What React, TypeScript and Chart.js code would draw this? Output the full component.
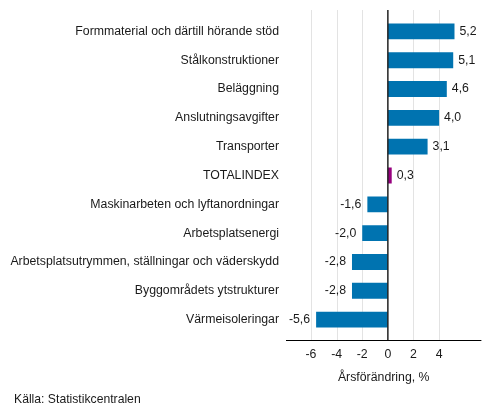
import { useEffect, useRef } from 'react'
import Chart from 'chart.js/auto';

// categories and values
const categories = [
    'Formmaterial och därtill hörande stöd',
    'Stålkonstruktioner',
    'Beläggning',
    'Anslutningsavgifter',
    'Transporter',
    'TOTALINDEX',
    'Maskinarbeten och lyftanordningar',
    'Arbetsplatsenergi',
    'Arbetsplatsutrymmen, ställningar och väderskydd',
    'Byggområdets ytstrukturer',
    'Värmeisoleringar',
];
const values = [5.2, 5.1, 4.6, 4.0, 3.1, 0.3, -1.6, -2.0, -2.8, -2.8, -5.6];
const xTicks = [-6, -4, -2, 0, 2, 4];
const axisTitle = 'Årsförändring, %';
const sourceText = 'Källa: Statistikcentralen';

const BLUE = '#0073b0';
const PURPLE = '#97007e';
const FONT = '"Liberation Sans", Arial, sans-serif';
const TEXT = '#1a1a1a';

const fmt = (v: number) => v.toFixed(1).replace('.', ',');

const decorPlugin = {
    id: 'decor',
    beforeDatasetsDraw(chart: any) {
        const { ctx, chartArea } = chart;
        const xs = chart.scales.x;
        ctx.save();
        ctx.strokeStyle = '#e3e3e3';
        ctx.lineWidth = 1;
        xTicks.forEach((t) => {
            if (t === 0) return;
            const x = Math.round(xs.getPixelForValue(t)) + 0.5;
            ctx.beginPath();
            ctx.moveTo(x, chartArea.top - 7);
            ctx.lineTo(x, chartArea.bottom + 6);
            ctx.stroke();
        });
        ctx.restore();
    },
    afterDatasetsDraw(chart: any) {
        const { ctx, chartArea } = chart;
        const xs = chart.scales.x;
        ctx.save();
        // zero line
        const x0 = xs.getPixelForValue(0);
        ctx.strokeStyle = '#222';
        ctx.lineWidth = 1.5;
        ctx.beginPath();
        ctx.moveTo(x0, chartArea.top - 7);
        ctx.lineTo(x0, chartArea.bottom + 6);
        ctx.stroke();
        // bottom axis line
        ctx.lineWidth = 1;
        ctx.strokeStyle = '#000';
        const yb = Math.round(chartArea.bottom + 6) + 0.5;
        ctx.beginPath();
        ctx.moveTo(chartArea.left, yb);
        ctx.lineTo(chartArea.right, yb);
        ctx.stroke();
        // value labels
        ctx.fillStyle = TEXT;
        ctx.font = '12.3px ' + FONT;
        ctx.textBaseline = 'middle';
        const meta = chart.getDatasetMeta(0);
        meta.data.forEach((bar: any, i: number) => {
            const v = values[i];
            if (v >= 0) {
                ctx.textAlign = 'left';
                ctx.fillText(fmt(v), bar.x + 5, bar.y);
            } else {
                ctx.textAlign = 'right';
                ctx.fillText(fmt(v), bar.x - 6, bar.y);
            }
        });
        ctx.restore();
    },
    afterDraw(chart: any) {
        const { ctx } = chart;
        ctx.save();
        ctx.fillStyle = TEXT;
        ctx.font = '12.2px ' + FONT;
        ctx.textAlign = 'left';
        ctx.textBaseline = 'middle';
        ctx.fillText(sourceText, 14, 400);
        ctx.restore();
    },
};

const App = () => {

    const chartRef = useRef<HTMLCanvasElement>(null);

    useEffect(() => {
        document.body.style.margin = '0';
        if (!chartRef.current) return;

        const myChart = new Chart(chartRef.current, {
            type: 'bar',
            data: {
                labels: categories,
                datasets: [
                    {
                        data: values,
                        backgroundColor: categories.map((c) => (c === 'TOTALINDEX' ? PURPLE : BLUE)),
                        categoryPercentage: 1,
                        barPercentage: 0.55,
                    },
                ],
            },
            options: {
                indexAxis: 'y',
                responsive: false,
                animation: false,
                layout: { padding: { top: 17, right: 11.6, bottom: 0, left: 0 } },
                plugins: {
                    legend: { display: false },
                    tooltip: { enabled: false },
                },
                scales: {
                    x: {
                        min: -7.95,
                        max: 7.3,
                        grid: { display: false, drawTicks: false },
                        border: { display: false },
                        afterBuildTicks: (scale: any) => {
                            scale.ticks = xTicks.map((v) => ({ value: v }));
                        },
                        afterFit: (scale: any) => {
                            scale.height = 82;
                        },
                        ticks: {
                            padding: 13,
                            color: TEXT,
                            font: { family: FONT, size: 12.3 },
                            callback: (v: any) => String(v),
                        },
                        title: {
                            display: true,
                            text: axisTitle,
                            color: TEXT,
                            font: { family: FONT, size: 12.3 },
                            padding: { top: 0, bottom: 31 },
                        },
                    },
                    y: {
                        grid: { display: false, drawTicks: false },
                        border: { display: false },
                        afterFit: (scale: any) => {
                            scale.width = 286;
                        },
                        ticks: {
                            padding: 7,
                            color: TEXT,
                            font: { family: FONT, size: 12.3 },
                            autoSkip: false,
                        },
                    },
                },
            },
            plugins: [decorPlugin],
        });

        return () => {
            myChart.destroy();
        };
    }, []);

    return <canvas ref={chartRef} width="493" height="416" style={{ display: 'block' }} />;
};

export default App;
